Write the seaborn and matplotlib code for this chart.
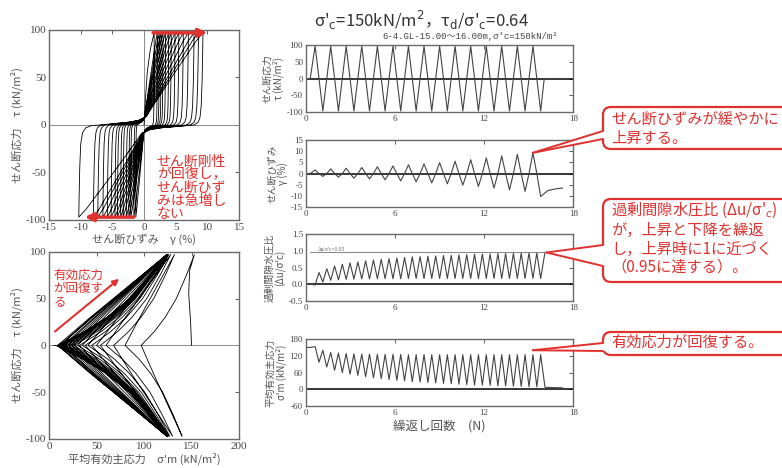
import numpy as np
import pandas as pd
import matplotlib
matplotlib.use('Agg')
import matplotlib.pyplot as plt
import seaborn as sns
from matplotlib.patches import FancyBboxPatch, Polygon

sns.set_style('white')
plt.rcParams['font.family'] = ['Noto Sans CJK JP', 'DejaVu Sans']
plt.rcParams['mathtext.fontset'] = 'dejavusans'
plt.rcParams['axes.unicode_minus'] = False

RED = '#e0312f'
GRAY = '#555555'
LINE = '#444444'
SERIF = ['Liberation Serif', 'DejaVu Serif']

# 試験条件
sig_c = 150
tau_amp = 97

# 応力ピークの時刻 (N) と、その時のひずみ・平均有効主応力
pos_t = [0.63, 1.68, 2.72, 3.77, 4.82, 5.87, 6.91, 7.96, 9.01, 10.05, 11.10, 12.15, 13.19, 14.24, 15.29]
neg_t = [1.15, 2.20, 3.24, 4.29, 5.34, 6.39, 7.43, 8.48, 9.53, 10.57, 11.62, 12.67, 13.71, 14.76, 15.81]
gam_pos = [1.6, 2.1, 2.4, 2.7, 3.0, 3.4, 3.9, 4.3, 4.9, 5.5, 6.2, 7.0, 7.9, 8.6, 9.3]
gam_neg = [-1.3, -1.6, -2.1, -2.4, -2.8, -3.3, -3.7, -4.2, -4.6, -5.2, -5.8, -6.5, -7.3, -8.0, -10.3]
p_pos = [153, 132, 128, 126, 125, 125, 124, 124, 124, 124, 124, 124, 124, 124, 124]
p_neg = [140, 130, 127, 126, 125, 125, 124, 124, 124, 124, 124, 124, 124, 124, 124]
# 応力ゼロ通過時の平均有効主応力（谷）
p_low = [97, 80, 68, 60, 54, 50, 45, 41, 38, 35, 32, 30, 27, 26, 24,
         23, 21, 20, 18, 17, 15, 15, 14, 12, 12, 11, 10, 9, 9, 7]

# 最初の載荷 / 最後の除荷
first_tau = [0, 25, 55, 80]
first_gam = [0, 0.2, 0.5, 1.0]
first_p = [150, 149, 147, 148]
tail_t_tau = [16.05, 17.3]
tail_t_gam = [16.3, 16.8, 17.3]
tail_gam = [-7.6, -6.9, -6.5]
tail_t_p = [16.1, 17.3]
tail_p = [7, 5]
u_end_t = 16.2
end_loop_gam = [-10.25, -10.15, -10.0, -9.7, -9.2, -8.2, -6.5]
end_loop_tau = [-75, -45, -20, -8, -3, -0.5, 0]

# ループ形状（外側ループから読んだ比率）
loop_lv = [-75, -45, -20, -8, -3, 0, 1.5, 3, 5, 9, 18, 35, 55, 75, 88, 97]
loop_ws = [0.995, 0.985, 0.97, 0.95, 0.92, 0.85, 0.6, 0.3, 0.1, 0, 0, 0, 0, 0, 0, 0]
loop_we = [0, 0, 0, 0, 0, 0, 0, 0, 0, 0.04, 0.13, 0.31, 0.52, 0.74, 0.88, 1]
unload_lv = [75, 50, 30, 15, 6]
unload_w = [0.85, 0.66, 0.45, 0.25, 0.1]
load_lv = [6, 15, 30, 50, 75, 97]
load_w = [0.06, 0.15, 0.3, 0.51, 0.77, 1]

# ---- 並べ替え ----
ext_t, ext_tau, ext_gam, ext_p = [], [], [], []
for k in range(len(pos_t)):
    ext_t += [pos_t[k], neg_t[k]]
    ext_tau += [tau_amp, -tau_amp]
    ext_gam += [gam_pos[k], gam_neg[k]]
    ext_p += [p_pos[k], p_neg[k]]
n_ext = len(ext_t)

# 時刻歴
ts_t, ts_tau, ts_gam, ts_p = [0, 0.3], [0, 0], [0, 0], [sig_c, sig_c]
for i in range(n_ext):
    ts_t.append(ext_t[i]); ts_tau.append(ext_tau[i]); ts_gam.append(ext_gam[i]); ts_p.append(ext_p[i])
    if i < n_ext - 1:
        ts_t.append((ext_t[i] + ext_t[i + 1]) / 2)
        ts_tau.append(0); ts_gam.append(0); ts_p.append(p_low[i])

tau_t = ts_t + tail_t_tau
tau_v = ts_tau + [0] * len(tail_t_tau)
gam_t = ts_t + tail_t_gam
gam_v = ts_gam + tail_gam
p_t = ts_t + tail_t_p
p_v = ts_p + [p_low[-1], tail_p[-1]]
u_t = ts_t + [tail_t_p[0], u_end_t]
u_v = [1 - p / sig_c for p in ts_p + [p_low[-1], p_low[-1]]]

# 応力-ひずみループ
ss_g = first_gam + [ext_gam[0]]
ss_tau = first_tau + [ext_tau[0]]
for i in range(1, n_ext):
    s = np.sign(ext_tau[i])
    gs, ge = ext_gam[i - 1], ext_gam[i]
    for lv, ws, we in zip(loop_lv, loop_ws, loop_we):
        ss_g.append(ws * gs + we * ge)
        ss_tau.append(s * lv)
ss_g += end_loop_gam
ss_tau += end_loop_tau

# 有効応力経路
sp_p = first_p + [ext_p[0]]
sp_tau = first_tau + [ext_tau[0]]
for i in range(1, n_ext):
    s = np.sign(ext_tau[i])
    pp, pl, pn = ext_p[i - 1], p_low[i - 1], ext_p[i]
    for lv, w in zip(unload_lv, unload_w):
        sp_p.append(pl + (pp - pl) * w); sp_tau.append(-s * lv)
    sp_p.append(pl); sp_tau.append(0)
    for lv, w in zip(load_lv, load_w):
        sp_p.append(pl + (pn - pl) * w); sp_tau.append(s * lv)
pp, pl = ext_p[-1], p_low[-1]
for lv, w in zip(unload_lv, unload_w):
    sp_p.append(pl + (pp - pl) * w); sp_tau.append(-lv)
sp_p += [pl, tail_p[-1]]
sp_tau += [0, 0]

# ---- 図 ----
fig = plt.figure(figsize=(7.82, 4.68), dpi=100)
ax_ss = fig.add_axes([0.0627, 0.530, 0.243, 0.406])
ax_sp = fig.add_axes([0.0627, 0.062, 0.243, 0.400])
ax_r = [fig.add_axes([0.391, b, 0.342, 0.143]) for b in (0.7607, 0.5577, 0.3568, 0.1325)]


def style(ax, size=7):
    for s in ax.spines.values():
        s.set_color('#6a6a6a')
        s.set_linewidth(1.0)
    ax.tick_params(direction='in', length=3, width=0.6, top=True, right=True,
                   labelsize=size, colors='#444444', pad=2, labelfontfamily='Liberation Serif')


# 応力-ひずみ
ax_ss.axhline(0, color='#8a8a8a', lw=0.7)
ax_ss.axvline(0, color='#8a8a8a', lw=0.7)
sns.lineplot(x=ss_g, y=ss_tau, sort=False, estimator=None, ax=ax_ss, color='k', lw=0.6)
ax_ss.set_xlim(-15, 15)
ax_ss.set_ylim(-100, 100)
ax_ss.set_xticks(range(-15, 16, 5))
ax_ss.set_yticks([-100, -50, 0, 50, 100])
ax_ss.set_xlabel('せん断ひずみ　γ (%)', fontsize=8, color=GRAY, labelpad=1)
ax_ss.set_ylabel('せん断応力　τ (kN/m²)', fontsize=8, color=GRAY, labelpad=2)
style(ax_ss, 8)
ax_ss.annotate('', xy=(10.4, 97), xytext=(1.0, 97),
               arrowprops=dict(arrowstyle='-|>', color=RED, lw=2.5, mutation_scale=12))
ax_ss.annotate('', xy=(-9.8, -97), xytext=(-1.2, -97),
               arrowprops=dict(arrowstyle='-|>', color=RED, lw=2.5, mutation_scale=12))
ax_ss.text(2.0, -31, 'せん断剛性\nが回復し，\nせん断ひず\nみは急増し\nない', color=RED,
           fontsize=10, va='top', ha='left', linespacing=0.92, clip_on=False)

# 有効応力経路
ax_sp.axhline(0, color='#8a8a8a', lw=0.7)
sns.lineplot(x=sp_p, y=sp_tau, sort=False, estimator=None, ax=ax_sp, color='k', lw=0.6)
ax_sp.set_xlim(0, 200)
ax_sp.set_ylim(-100, 100)
ax_sp.set_xticks(range(0, 201, 50))
ax_sp.set_yticks([-100, -50, 0, 50, 100])
ax_sp.set_xlabel("平均有効主応力　σ'm (kN/m²)", fontsize=8, color=GRAY, labelpad=1)
ax_sp.set_ylabel('せん断応力　τ (kN/m²)', fontsize=8, color=GRAY, labelpad=2)
style(ax_sp, 8)
ax_sp.annotate('', xy=(76, 73), xytext=(4, 13),
               arrowprops=dict(arrowstyle='-|>', color=RED, lw=1.5, mutation_scale=9))
ax_sp.text(4.5, 82, '有効応力\nが回復す\nる', color=RED, fontsize=9, va='top', ha='left',
           linespacing=1.0)

# 時刻歴
series = [(tau_t, tau_v, (-100, 100), [-100, -50, 0, 50, 100], 'せん断応力\nτ (kN/m²)'),
          (gam_t, gam_v, (-15, 15), list(range(-15, 16, 5)), 'せん断ひずみ\nγ (%)'),
          (u_t, u_v, (-0.5, 1.5), [-0.5, 0.0, 0.5, 1.0, 1.5], "過剰間隙水圧比\n(Δu/σ'c)"),
          (p_t, p_v, (-60, 180), [-60, 0, 60, 120, 180], "平均有効主応力\nσ'm (kN/m²)")]
for ax, (x, y, lim, ticks, lab) in zip(ax_r, series):
    ax.axhline(0, color='k', lw=1.1)
    sns.lineplot(x=x, y=y, sort=False, estimator=None, ax=ax, color=LINE, lw=0.8)
    ax.set_xlim(0, 18)
    ax.set_ylim(*lim)
    ax.set_xticks([0, 6, 12, 18])
    ax.set_yticks(ticks)
    ax.set_ylabel(lab, fontsize=7, color=GRAY, linespacing=1.0, labelpad=2)
    style(ax, 6.5)
ax_r[2].yaxis.set_major_formatter(matplotlib.ticker.FormatStrFormatter('%.1f'))
ax_r[2].plot([0.3, u_end_t], [0.95, 0.95], color='#8a8a8a', lw=0.8)
ax_r[2].text(0.8, 0.99, "Δu/σ'c=0.95", fontsize=4, color='#666666', family=SERIF)
ax_r[3].set_xlabel('繰返し回数　(N)', fontsize=9, color=GRAY, labelpad=2)

fig.text(0.539, 0.957, "σ'$_{\\rm c}$=150kN/m$^2$，τ$_{\\rm d}$/σ'$_{\\rm c}$=0.64",
         ha='center', va='center', fontsize=12, color='#333333')
fig.text(0.7136, 0.921, "6-4.GL-15.00～16.00m,σ'c=150kN/m²", ha='right',
         va='center', fontsize=6.5, color='#444444', family=['Liberation Mono', 'Noto Sans CJK JP'])

# 吹き出し
ov = fig.add_axes([0, 0, 1, 1], zorder=10)
ov.set_xlim(0, 782)
ov.set_ylim(468, 0)
ov.axis('off')
ov.patch.set_alpha(0)


def to_px(ax, x, y):
    X, Y = ax.transData.transform((x, y))
    return X, 468 - Y


def callout(y0, y1, b1, b2, apex, text, ty):
    x0 = 603
    ov.add_patch(FancyBboxPatch((x0, y0), 200, y1 - y0, boxstyle='round,pad=0,rounding_size=8',
                                fc='white', ec=RED, lw=1.6))
    ov.add_patch(Polygon([apex, (x0 + 2, b1), (x0 + 2, b2)], closed=True, fc='white', ec='none'))
    ov.plot([apex[0], x0], [apex[1], b1], color=RED, lw=1.4)
    ov.plot([apex[0], x0], [apex[1], b2], color=RED, lw=1.4)
    ov.text(611, ty, text, color=RED, fontsize=11, va='top', ha='left', linespacing=1.12)


callout(107, 149, 131, 139, to_px(ax_r[1], pos_t[-1], gam_pos[-1]),
        'せん断ひずみが緩やかに\n上昇する。', 111)
callout(199, 282, 245, 266, to_px(ax_r[2], u_end_t, 0.95),
        "過剰間隙水圧比 (Δu/σ'$_c$)\nが，上昇と下降を繰返\nし，上昇時に1に近づく\n（0.95に達する）。", 200)
callout(332, 355, 343, 351, to_px(ax_r[3], pos_t[-1], 140),
        '有効応力が回復する。', 334)

fig.savefig('out.png', dpi=100)
